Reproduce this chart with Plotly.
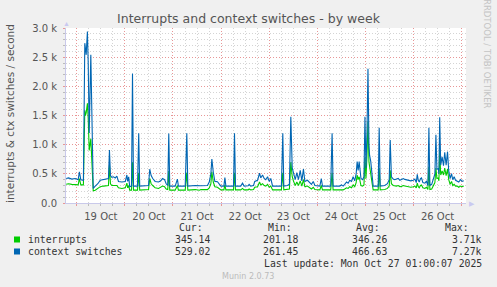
import plotly.graph_objects as go
import pandas as pd

# ---- data (hours since 2025-10-19 00:00) ----
hours = [-5.3, -4.1, -2.5, -0.8, 0.7, 1.3, 2.0, 3.3, 4.0, 4.3, 4.7, 5.0, 5.3, 5.7, 6.2, 7.0, 7.7, 8.2,
         9.2, 10.5, 11.7, 13.3, 15.0, 15.8, 16.3, 16.8, 17.5, 18.3, 19.2, 20.0, 20.8, 22.5, 24.2, 25.0,
         25.4, 25.9, 26.4, 27.3, 27.8, 28.3, 30.3, 30.9, 31.4, 34.1, 35.8, 36.4, 37.1, 37.9, 39.1, 40.8,
         41.9, 42.8, 43.8, 44.6, 45.4, 45.9, 46.4, 49.1, 50.2, 50.7, 54.1, 54.9, 55.4, 59.1, 61.2, 61.9,
         65.2, 66.1, 66.9, 67.4, 68.1, 68.9, 70.2, 71.9, 73.4, 73.9, 74.4, 78.2, 78.7, 79.2, 81.8, 82.7,
         83.5, 85.5, 86.0, 86.8, 88.2, 88.8, 90.2, 91.2, 91.8, 92.7, 93.5, 94.3, 95.2, 96.0, 96.8, 97.7,
         102.1, 102.8, 103.3, 105.1, 106.1, 106.8, 107.5, 108.1, 109.0, 109.8, 110.6, 111.5, 112.3,
         113.1, 113.8, 115.1, 116.1, 117.1, 118.0, 118.8, 121.3, 122.0, 122.6, 126.7, 127.4, 127.9,
         128.7, 131.2, 132.1, 132.9, 133.7, 134.6, 135.4, 136.2, 137.1, 137.9, 138.7, 139.4, 139.9,
         140.4, 140.9, 141.8, 142.6, 143.3, 143.8, 144.3, 144.8, 145.3, 145.8, 146.1, 146.7, 147.4,
         147.9, 150.4, 150.9, 151.4, 153.7, 155.0, 155.9, 156.4, 157.0, 157.9, 158.7, 159.5, 160.4,
         161.2, 162.0, 162.9, 163.7, 164.5, 165.4, 166.7, 167.9, 168.7, 169.4, 169.9, 170.4, 170.9,
         171.5, 172.0, 172.7, 173.7, 174.5, 175.2, 175.7, 176.2, 177.1, 177.9, 178.7, 179.2, 179.7,
         180.4, 180.7, 181.1, 181.6, 182.3, 183.0, 183.6, 184.3, 185.0, 185.6, 186.3, 187.0, 187.6,
         188.3, 189.0, 189.8, 190.6, 191.5, 192.3, 193.1]

context_switches = [420, 430, 410, 420, 400, 535, 400, 390, 2740, 2600, 2540, 2750, 2940, 2400, 1200, 2540, 1000, 250,
                    290, 330, 390, 400, 410, 420, 910, 470, 440, 450, 430, 460, 370, 360, 370, 480,
                    370, 450, 280, 290, 2220, 290, 290, 1195, 290, 290, 300, 580, 470, 420, 370, 360,
                    380, 420, 400, 330, 300, 1190, 290, 290, 410, 290, 290, 1195, 290, 300, 290, 295,
                    300, 360, 500, 755, 530, 370, 365, 290, 290, 435, 290, 290, 1195, 290, 290, 340,
                    290, 295, 320, 290, 300, 370, 390, 510, 430, 480, 420, 400, 450, 370, 420, 290,
                    290, 1195, 290, 300, 320, 1480, 600, 510, 400, 520, 400, 560, 380,
                    580, 370, 390, 360, 320, 370, 300, 290, 420, 290, 290, 1195, 290,
                    290, 290, 310, 290, 320, 360, 340, 390, 370, 450, 380, 500, 710,
                    560, 710, 420, 400, 450, 1480, 600, 1200, 2300, 1000, 820, 710, 440,
                    290, 290, 1290, 290, 300, 330, 400, 1080, 450, 410, 400, 410, 420,
                    390, 400, 420, 405, 400, 390, 380, 390, 410, 350, 490, 390, 360,
                    420, 430, 350, 340, 370, 300, 1290, 300, 320, 430, 500, 1170, 580,
                    590, 500, 1470, 650, 790, 640, 870, 650, 880, 550, 420, 505, 400,
                    450, 390, 380, 360, 400, 370, 380]

interrupts = [320, 330, 320, 315, 310, 420, 310, 310, 1590, 1500, 1550, 1650, 1710, 1450, 900, 1100, 700, 210,
              220, 250, 280, 290, 300, 300, 650, 330, 300, 300, 290, 300, 260, 250, 260, 340,
              260, 300, 220, 220, 700, 220, 220, 520, 220, 220, 230, 420, 330, 300, 260, 250,
              270, 290, 280, 240, 230, 550, 220, 220, 300, 220, 220, 520, 220, 230, 220, 230,
              230, 260, 330, 535, 360, 280, 270, 225, 225, 310, 225, 225, 520, 225, 225, 250,
              225, 225, 240, 225, 230, 270, 280, 360, 310, 330, 300, 290, 320, 270, 290, 225,
              225, 520, 225, 230, 240, 700, 450, 380, 300, 360, 300, 380, 290,
              400, 280, 290, 260, 240, 270, 230, 225, 300, 225, 225, 520, 225,
              225, 225, 230, 225, 240, 260, 250, 280, 260, 310, 280, 350, 480,
              400, 450, 300, 290, 310, 780, 420, 800, 1400, 700, 600, 500, 330,
              225, 225, 600, 225, 230, 250, 290, 560, 330, 300, 290, 290, 300,
              280, 285, 300, 290, 285, 280, 270, 280, 290, 260, 340, 280, 260,
              300, 310, 260, 250, 270, 230, 620, 230, 240, 300, 350, 600, 420,
              430, 380, 900, 480, 550, 480, 600, 470, 580, 400, 320, 370, 300,
              320, 290, 290, 270, 290, 280, 290]

series_names = ["interrupts", "context switches"]
series_colors = ["#00CC00", "#0066B3"]
stat_headers = ["Cur:", "Min:", "Avg:", "Max:"]
stats_interrupts = ["345.14", "201.18", "346.26", "3.71k"]
stats_context = ["529.02", "261.45", "466.63", "7.27k"]
y_tickvals = [0, 500, 1000, 1500, 2000, 2500, 3000]
y_ticktext = ["0.0", "0.5 k", "1.0 k", "1.5 k", "2.0 k", "2.5 k", "3.0 k"]

base = pd.Timestamp("2025-10-19 00:00")
times = [base + pd.Timedelta(hours=h) for h in hours]

# ---- layout geometry (pixels) ----
W, H = 497, 287
ML, MR, MT, MB = 66, 31, 28, 84
PW, PH = W - ML - MR, H - MT - MB


def px(xp):
    return (xp - ML) / PW


def py(yp):
    return (MT + PH - yp) / PH


fig = go.Figure()
fig.add_trace(go.Scatter(x=times, y=interrupts, mode="lines",
                         line=dict(color=series_colors[0], width=1.1), name=series_names[0]))
fig.add_trace(go.Scatter(x=times, y=context_switches, mode="lines",
                         line=dict(color=series_colors[1], width=1.1), name=series_names[1]))

major = "rgb(232,150,150)"
minor = "#D4D4D4"
axis_col = "#C9C9EA"
tick_font = dict(family="DejaVu Sans", size=10, color="#555555")

fig.update_layout(
    width=W, height=H,
    margin=dict(l=ML, r=MR, t=MT, b=MB, pad=0),
    paper_bgcolor="#F0F0F0", plot_bgcolor="#FFFFFF",
    showlegend=False,
    title=dict(text="Interrupts and context switches - by week", x=0.5, xanchor="center",
               y=1 - 18.5 / H, yanchor="middle",
               font=dict(family="DejaVu Sans", size=12.5, color="#555555")),
    xaxis=dict(type="date", range=["2025-10-18 18:37", "2025-10-27 02:13"],
               tick0="2025-10-19", dtick=86400000, tickformat="%d %b", ticklabelmode="period",
               showgrid=True, gridcolor=major, griddash="1px,2px", gridwidth=1,
               ticks="outside", ticklen=2, tickcolor=major,
               showline=True, linecolor=axis_col, linewidth=1, zeroline=False,
               tickfont=tick_font, ticklabelstandoff=2,
               minor=dict(tick0="2025-10-19", dtick=21600000, showgrid=True, gridcolor=minor,
                          griddash="1px,2px", ticks="outside", ticklen=2, tickcolor="#BBBBBB")),
    yaxis=dict(range=[0, 3000], tickvals=y_tickvals, ticktext=y_ticktext,
               showgrid=True, gridcolor=major, griddash="1px,2px", gridwidth=1,
               ticks="outside", ticklen=2, tickcolor=major,
               showline=True, linecolor=axis_col, linewidth=1, zeroline=False,
               tickfont=tick_font, ticklabelstandoff=4,
               minor=dict(dtick=100, showgrid=True, gridcolor=minor, griddash="1px,2px",
                          ticks="outside", ticklen=2, tickcolor="#BBBBBB")),
)

ann = []
# y-axis title
ann.append(dict(x=px(10), y=py(114), xref="paper", yref="paper", text="interrupts & ctx switches / second",
                textangle=-90, showarrow=False, xanchor="center", yanchor="middle",
                font=dict(family="DejaVu Sans", size=10.5, color="#555555")))
# right watermark
ann.append(dict(x=px(487), y=py(54), xref="paper", yref="paper", text="RRDTOOL / TOBI OETIKER",
                textangle=90, showarrow=False, xanchor="center", yanchor="middle",
                font=dict(family="DejaVu Sans", size=8.5, color="#C4C4C4")))
# axis arrows
ann.append(dict(x=px(66), y=py(23), xref="paper", yref="paper", text="▲", showarrow=False,
                xanchor="center", yanchor="middle", font=dict(size=7, color="#C9C9F0")))
ann.append(dict(x=px(472), y=py(203), xref="paper", yref="paper", text="▶", showarrow=False,
                xanchor="center", yanchor="middle", font=dict(size=7, color="#C9C9F0")))

mono = dict(family="DejaVu Sans Mono", size=9.8, color="#333333")
header_right = [204, 293, 381, 470]
value_right = [211, 299, 387.7, 482.7]
for hdr, xr in zip(stat_headers, header_right):
    ann.append(dict(x=px(xr), y=py(227.7), xref="paper", yref="paper", text=hdr, showarrow=False,
                    xanchor="right", yanchor="middle", font=mono, borderpad=0))
for row_y, name, stats in [(239.2, series_names[0], stats_interrupts), (251.2, series_names[1], stats_context)]:
    ann.append(dict(x=px(26.5), y=py(row_y), xref="paper", yref="paper", text=name, showarrow=False,
                    xanchor="left", yanchor="middle", font=mono, borderpad=0))
    for val, xr in zip(stats, value_right):
        ann.append(dict(x=px(xr), y=py(row_y), xref="paper", yref="paper", text=val, showarrow=False,
                        xanchor="right", yanchor="middle", font=mono, borderpad=0))
ann.append(dict(x=px(482.5), y=py(263.7), xref="paper", yref="paper",
                text="Last update: Mon Oct 27 01:00:07 2025", showarrow=False,
                xanchor="right", yanchor="middle", font=mono, borderpad=0))
ann.append(dict(x=px(248), y=py(276.3), xref="paper", yref="paper", text="Munin 2.0.73", showarrow=False,
                xanchor="center", yanchor="middle",
                font=dict(family="DejaVu Sans", size=8, color="#BBBBBB")))
fig.update_layout(annotations=ann)

# legend swatches
shapes = []
for col, yc in zip(series_colors, [239.5, 251.5]):
    shapes.append(dict(type="rect", xref="paper", yref="paper",
                       x0=px(14), x1=px(20), y0=py(yc + 3), y1=py(yc - 3),
                       fillcolor=col, line=dict(width=0)))
fig.update_layout(shapes=shapes)

fig.write_html("out.html")
